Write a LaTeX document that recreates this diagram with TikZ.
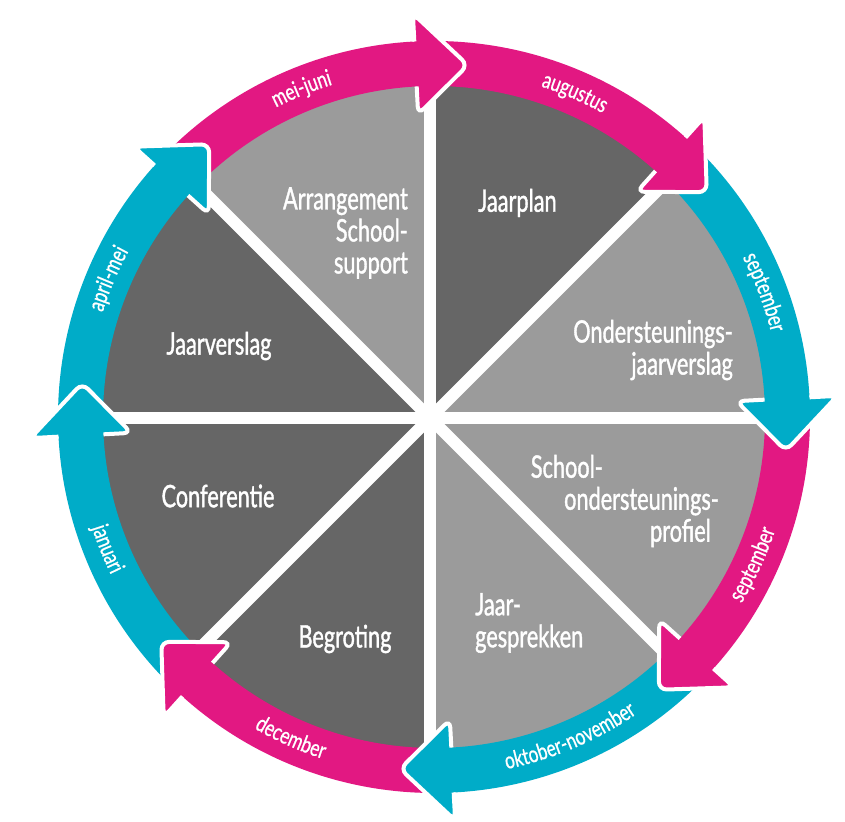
\documentclass[tikz,border=0pt]{standalone}
\usepackage{fontspec}
\usetikzlibrary{decorations.text}
\newfontfamily\secfont{Lato}[FakeStretch=0.7,FakeBold=1.2]
\newfontfamily\arcfont{Lato}[FakeStretch=0.75,FakeBold=0.8]
\definecolor{mag}{RGB}{226,24,130}
\definecolor{cya}{RGB}{0,172,200}
\definecolor{dkgray}{RGB}{102,102,102}
\definecolor{ltgray}{RGB}{155,155,155}
\tikzset{
  seclabel/.style={text=white,font=\secfont\fontsize{31}{32}\selectfont,inner sep=0pt},
  arctext/.style={decorate,decoration={text along path,text align=center,text color=white,
     text={|\arcfont\fontsize{23}{23}\selectfont|#1}}},
  headstyle/.style={draw=white,line width=4pt,rounded corners=8pt},
}
\begin{document}
\begin{tikzpicture}[x=1pt,y=1pt]
\useasboundingbox (0,0) rectangle (845,821);
\fill[white] (0,0) rectangle (845,821);

% disk sectors
\begin{scope}[shift={(430,403)}]
  \foreach \a/\c in {90/dkgray,45/ltgray,0/ltgray,-45/ltgray,-90/dkgray,-135/dkgray,180/dkgray,135/ltgray}{
    \fill[\c] (0,0) -- (\a:340) arc[start angle=\a, end angle=\a-45, radius=340] -- cycle;
  }
  \foreach \a in {0,45,...,315}{
    \draw[white,line width=12pt] (0,0) -- (\a:338);
  }
\end{scope}

% ring of arrows
\begin{scope}[shift={(434,404)}]
  \foreach \b/\c in {90/mag,45/mag,0/cya,-45/mag,-90/cya,-135/mag,180/cya,135/cya}{
    \fill[\c] (\b+47:376) arc[start angle=\b+47, end angle=\b+2, radius=376]
      -- (\b+2:331) arc[start angle=\b+2, end angle=\b+47, radius=331] -- cycle;
  }
  \foreach \b/\c in {90/mag,45/mag,0/cya,-45/mag,-90/cya,-135/mag,180/cya,135/cya}{
    \filldraw[fill=\c,headstyle] (\b+3:331) -- (\b+3:303) -- (\b-5.5:353.5) -- (\b+3:404) -- (\b+3:376);
  }
  % arc labels
  \path[arctext=mei-juni] (137:347.5) arc[start angle=137, end angle=87, radius=347.5];
  \path[arctext=augustus] (91.5:347.5) arc[start angle=91.5, end angle=41.5, radius=347.5];
  \path[arctext=september] (45.7:347.5) arc[start angle=45.7, end angle=-4.3, radius=347.5];
  \path[arctext=september] (-49.8:359.5) arc[start angle=-49.8, end angle=0.2, radius=359.5];
  \path[arctext=oktober-november] (-97:359.5) arc[start angle=-97, end angle=-37, radius=359.5];
  \path[arctext=december] (-139:359.5) arc[start angle=-139, end angle=-89, radius=359.5];
  \path[arctext=januari] (-183:359.5) arc[start angle=-183, end angle=-133, radius=359.5];
  \path[arctext=april-mei] (182:347.5) arc[start angle=182, end angle=132, radius=347.5];
\end{scope}

% sector labels
\node[seclabel,anchor=west] (jaarplan) at (478,618) {Jaarplan};
\node[seclabel,align=right,anchor=east] (ojv) at (733,471) {Ondersteunings-\\jaarverslag};
\node[seclabel,align=right,anchor=east] (sop) at (711,320) {School-\hspace*{108pt}\\ondersteunings\rlap{-}\\profiel};
\node[seclabel,align=left,anchor=west] (jg) at (475,198) {Jaar-\\gesprekken};
\node[seclabel] (begr) at (345,182) {Begroting};
\node[seclabel] (conf) at (218,325) {Conferentie};
\node[seclabel] (jv) at (219,475) {Jaarverslag};
\node[seclabel,align=right,anchor=east] (asp) at (408,588) {Arrangement\\School-\\support};
\end{tikzpicture}
\end{document}
